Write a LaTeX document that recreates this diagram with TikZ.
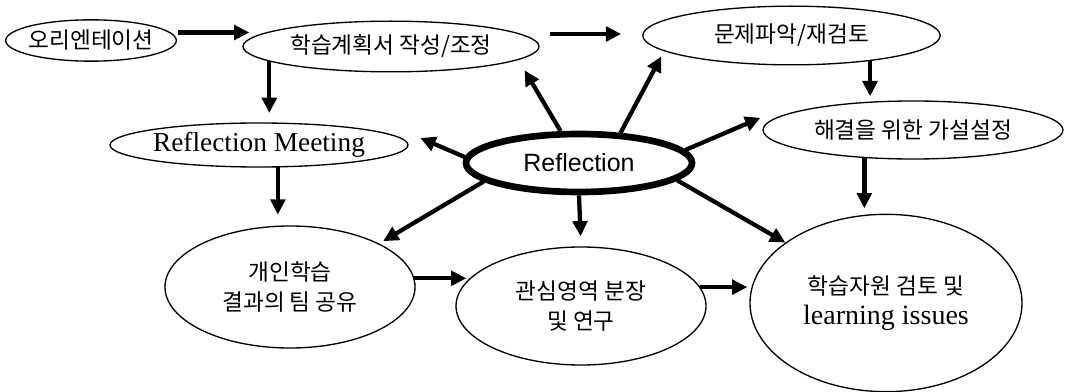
\documentclass[tikz,border=0pt]{standalone}
\usepackage{fontspec}
\newfontfamily\kr{Noto Sans CJK KR}
\newfontfamily\hv{Liberation Sans}
\newfontfamily\tm{Liberation Serif}
\usetikzlibrary{shapes.geometric,arrows.meta,calc}

\begin{document}
\begin{tikzpicture}[x=0.75pt,y=-0.75pt]
        \useasboundingbox (0,0) rectangle (1066,392);
        \begin{scope}[every node/.style={ellipse,draw,line width=1pt,inner sep=0pt,inner xsep=-8pt,align=center,font=\kr\fontsize{17}{22.5}\selectfont}]
            \node[minimum width=128pt,minimum height=31pt] (orient) at (91,40.5) {오리엔테이션};
            \node[minimum width=222pt,minimum height=38pt] (plan) at (391,46.5) {학습계획서 작성/조정};
            \node[minimum width=223pt,minimum height=44pt] (problem) at (791.5,35.5) {문제파악/재검토};
            \node[minimum width=225pt,minimum height=43.5pt] (hypo) at (913,130) {해결을 위한 가설설정};
            \node[minimum width=223.5pt,minimum height=33pt,font=\tm\fontsize{20.5}{24}\selectfont] (meet) at (259,145) {Reflection Meeting};
            \node[minimum width=169.5pt,minimum height=43.5pt,line width=5pt,font=\hv\fontsize{18.75}{22}\selectfont] (refl) at (579,163) {Reflection};
            \node[minimum width=187.5pt,minimum height=91.5pt] (share) at (290,287) {개인학습\\결과의 팀 공유};
            \node[minimum width=187.5pt,minimum height=88.5pt] (study) at (581,306) {관심영역 분장\\및 연구};
            \node[minimum width=204pt,minimum height=133pt] (res) at (886,303) {학습자원 검토 및\\{\tm\fontsize{21}{24}\selectfont learning issues}};
        \end{scope}
        \begin{scope}[every edge/.style={draw,line width=3.2pt,-{Triangle[length=11.5pt,width=11pt]}}]
            \path
                ($(orient.east)+(1,-8)$) edge ($(orient.east -| plan.west)+(7,-8)$)
                ($(plan.east)+(10,-12.5)$) edge ($(plan.east -| problem.west)+(-21,-12.5)$)
                (plan.187) edge [shorten >=7pt] (plan.187 |- meet.north)
                (meet.-50) edge [shorten >=8pt] (meet.-50 |- share.north)
                (problem.-18) edge [shorten >=3pt] (problem.-18 |- hypo.north)
                (hypo.-150) edge [shorten >=4pt] (hypo.-150 |- res.north)
                (share.4) edge ($(share.4 -| study.west)+(11,0)$)
                (study.9) edge [shorten >=1.5pt] (study.9 -| res.west)
                (refl.120) edge [shorten >=9pt] (plan.-6)
                (refl.36) edge [shorten >=4.5pt] (problem.-173)
                (refl.177) edge [shorten >=9.5pt] ($(meet.east)+(0,-12)$)
                (refl.7) edge [shorten >=1.5pt] ($(hypo.west)+(0,-13)$)
                (refl.-169) edge [shorten >=3.5pt] (share.26)
                (refl.south) edge [shorten >=7.5pt] (study.north)
                (refl.-10) edge (res.149);
        \end{scope}
\end{tikzpicture}
\end{document}
